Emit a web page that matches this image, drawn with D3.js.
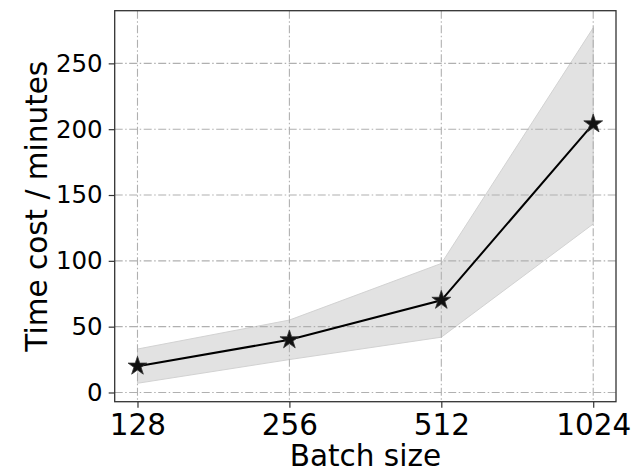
<!DOCTYPE html>
<html>
<head>
<meta charset="utf-8">
<script src="https://cdn.jsdelivr.net/npm/d3@7"></script>
<style>
  html, body { margin: 0; padding: 0; background: #fff; }
  svg { display: block; font-family: "DejaVu Sans", sans-serif; }
</style>
</head>
<body>
<div id="chart"></div>
<script>
// data
const batchSizes = ["128", "256", "512", "1024"];
const meanTime = [20, 40, 70, 204];
const lowerTime = [7, 25, 42, 128];
const upperTime = [33, 55, 98, 277];
const yTicks = [0, 50, 100, 150, 200, 250];

const W = 631, H = 472;
const margin = { top: 10.7, right: 15, bottom: 70.3, left: 114.7 };
const width = W - margin.left - margin.right;
const height = H - margin.top - margin.bottom;

const svg = d3.select("#chart").append("svg")
  .attr("width", W)
  .attr("height", H);

const g = svg.append("g")
  .attr("transform", `translate(${margin.left},${margin.top})`);

// x: categorical, with matplotlib-like padding of 0.15 step on each side
const step = width / (batchSizes.length - 1 + 0.3);
const x = d3.scalePoint()
  .domain(batchSizes)
  .range([0.15 * step, width - 0.15 * step]);

const y = d3.scaleLinear()
  .domain([-7, 290])
  .range([height, 0]);

const rows = batchSizes.map((b, i) => ({
  b, mean: meanTime[i], lo: lowerTime[i], hi: upperTime[i]
}));

// band
const area = d3.area()
  .x(d => x(d.b))
  .y0(d => y(d.lo))
  .y1(d => y(d.hi));

g.append("path")
  .datum(rows)
  .attr("d", area)
  .attr("fill", "#e2e2e2")
  .attr("stroke", "#d2d2d2")
  .attr("stroke-width", 1);

// grid (dash-dot)
const gridDash = "8 2.5 1.5 2.5";
g.append("g")
  .selectAll("line")
  .data(yTicks)
  .join("line")
  .attr("x1", 0).attr("x2", width)
  .attr("y1", d => y(d)).attr("y2", d => y(d))
  .attr("stroke", "#b0b0b0")
  .attr("stroke-width", 1.1)
  .attr("stroke-dasharray", gridDash);

g.append("g")
  .selectAll("line")
  .data(batchSizes)
  .join("line")
  .attr("x1", d => x(d)).attr("x2", d => x(d))
  .attr("y1", 0).attr("y2", height)
  .attr("stroke", "#b0b0b0")
  .attr("stroke-width", 1.1)
  .attr("stroke-dasharray", gridDash);

// mean line
const line = d3.line()
  .x(d => x(d.b))
  .y(d => y(d.mean));

g.append("path")
  .datum(rows)
  .attr("d", line)
  .attr("fill", "none")
  .attr("stroke", "#000")
  .attr("stroke-width", 2);

// star markers
g.selectAll(".star")
  .data(rows)
  .join("path")
  .attr("class", "star")
  .attr("transform", d => `translate(${x(d.b)},${y(d.mean)})`)
  .attr("d", d3.symbol().type(d3.symbolStar).size(110))
  .attr("fill", "#111")
  .attr("stroke", "#333")
  .attr("stroke-width", 0.8);

// axes (x tick labels are bigger than the y ones in the reference)
const xAxis = g.append("g")
  .attr("transform", `translate(0,${height})`)
  .call(d3.axisBottom(x).tickSize(6).tickPadding(6));

const yAxis = g.append("g")
  .call(d3.axisLeft(y).tickValues(yTicks).tickSize(6).tickPadding(6));

[xAxis, yAxis].forEach(a => {
  a.select(".domain").remove();
  a.selectAll(".tick line").attr("stroke", "#333").attr("stroke-width", 1.2);
  a.selectAll(".tick text")
    .attr("fill", "#000")
    .style("font-family", "'DejaVu Sans', sans-serif");
});
xAxis.selectAll(".tick text").style("font-size", "29.5px");
yAxis.selectAll(".tick text").style("font-size", "24.5px");

// frame
g.append("rect")
  .attr("x", 0).attr("y", 0)
  .attr("width", width).attr("height", height)
  .attr("fill", "none")
  .attr("stroke", "#333")
  .attr("stroke-width", 1.3);

// axis labels
svg.append("text")
  .attr("x", margin.left + width / 2)
  .attr("y", 466)
  .attr("text-anchor", "middle")
  .style("font-size", "29.5px")
  .text("Batch size");

svg.append("text")
  .attr("transform", `translate(47,${margin.top + height / 2}) rotate(-90)`)
  .attr("text-anchor", "middle")
  .style("font-size", "29.5px")
  .text("Time cost / minutes");
</script>
</body>
</html>
